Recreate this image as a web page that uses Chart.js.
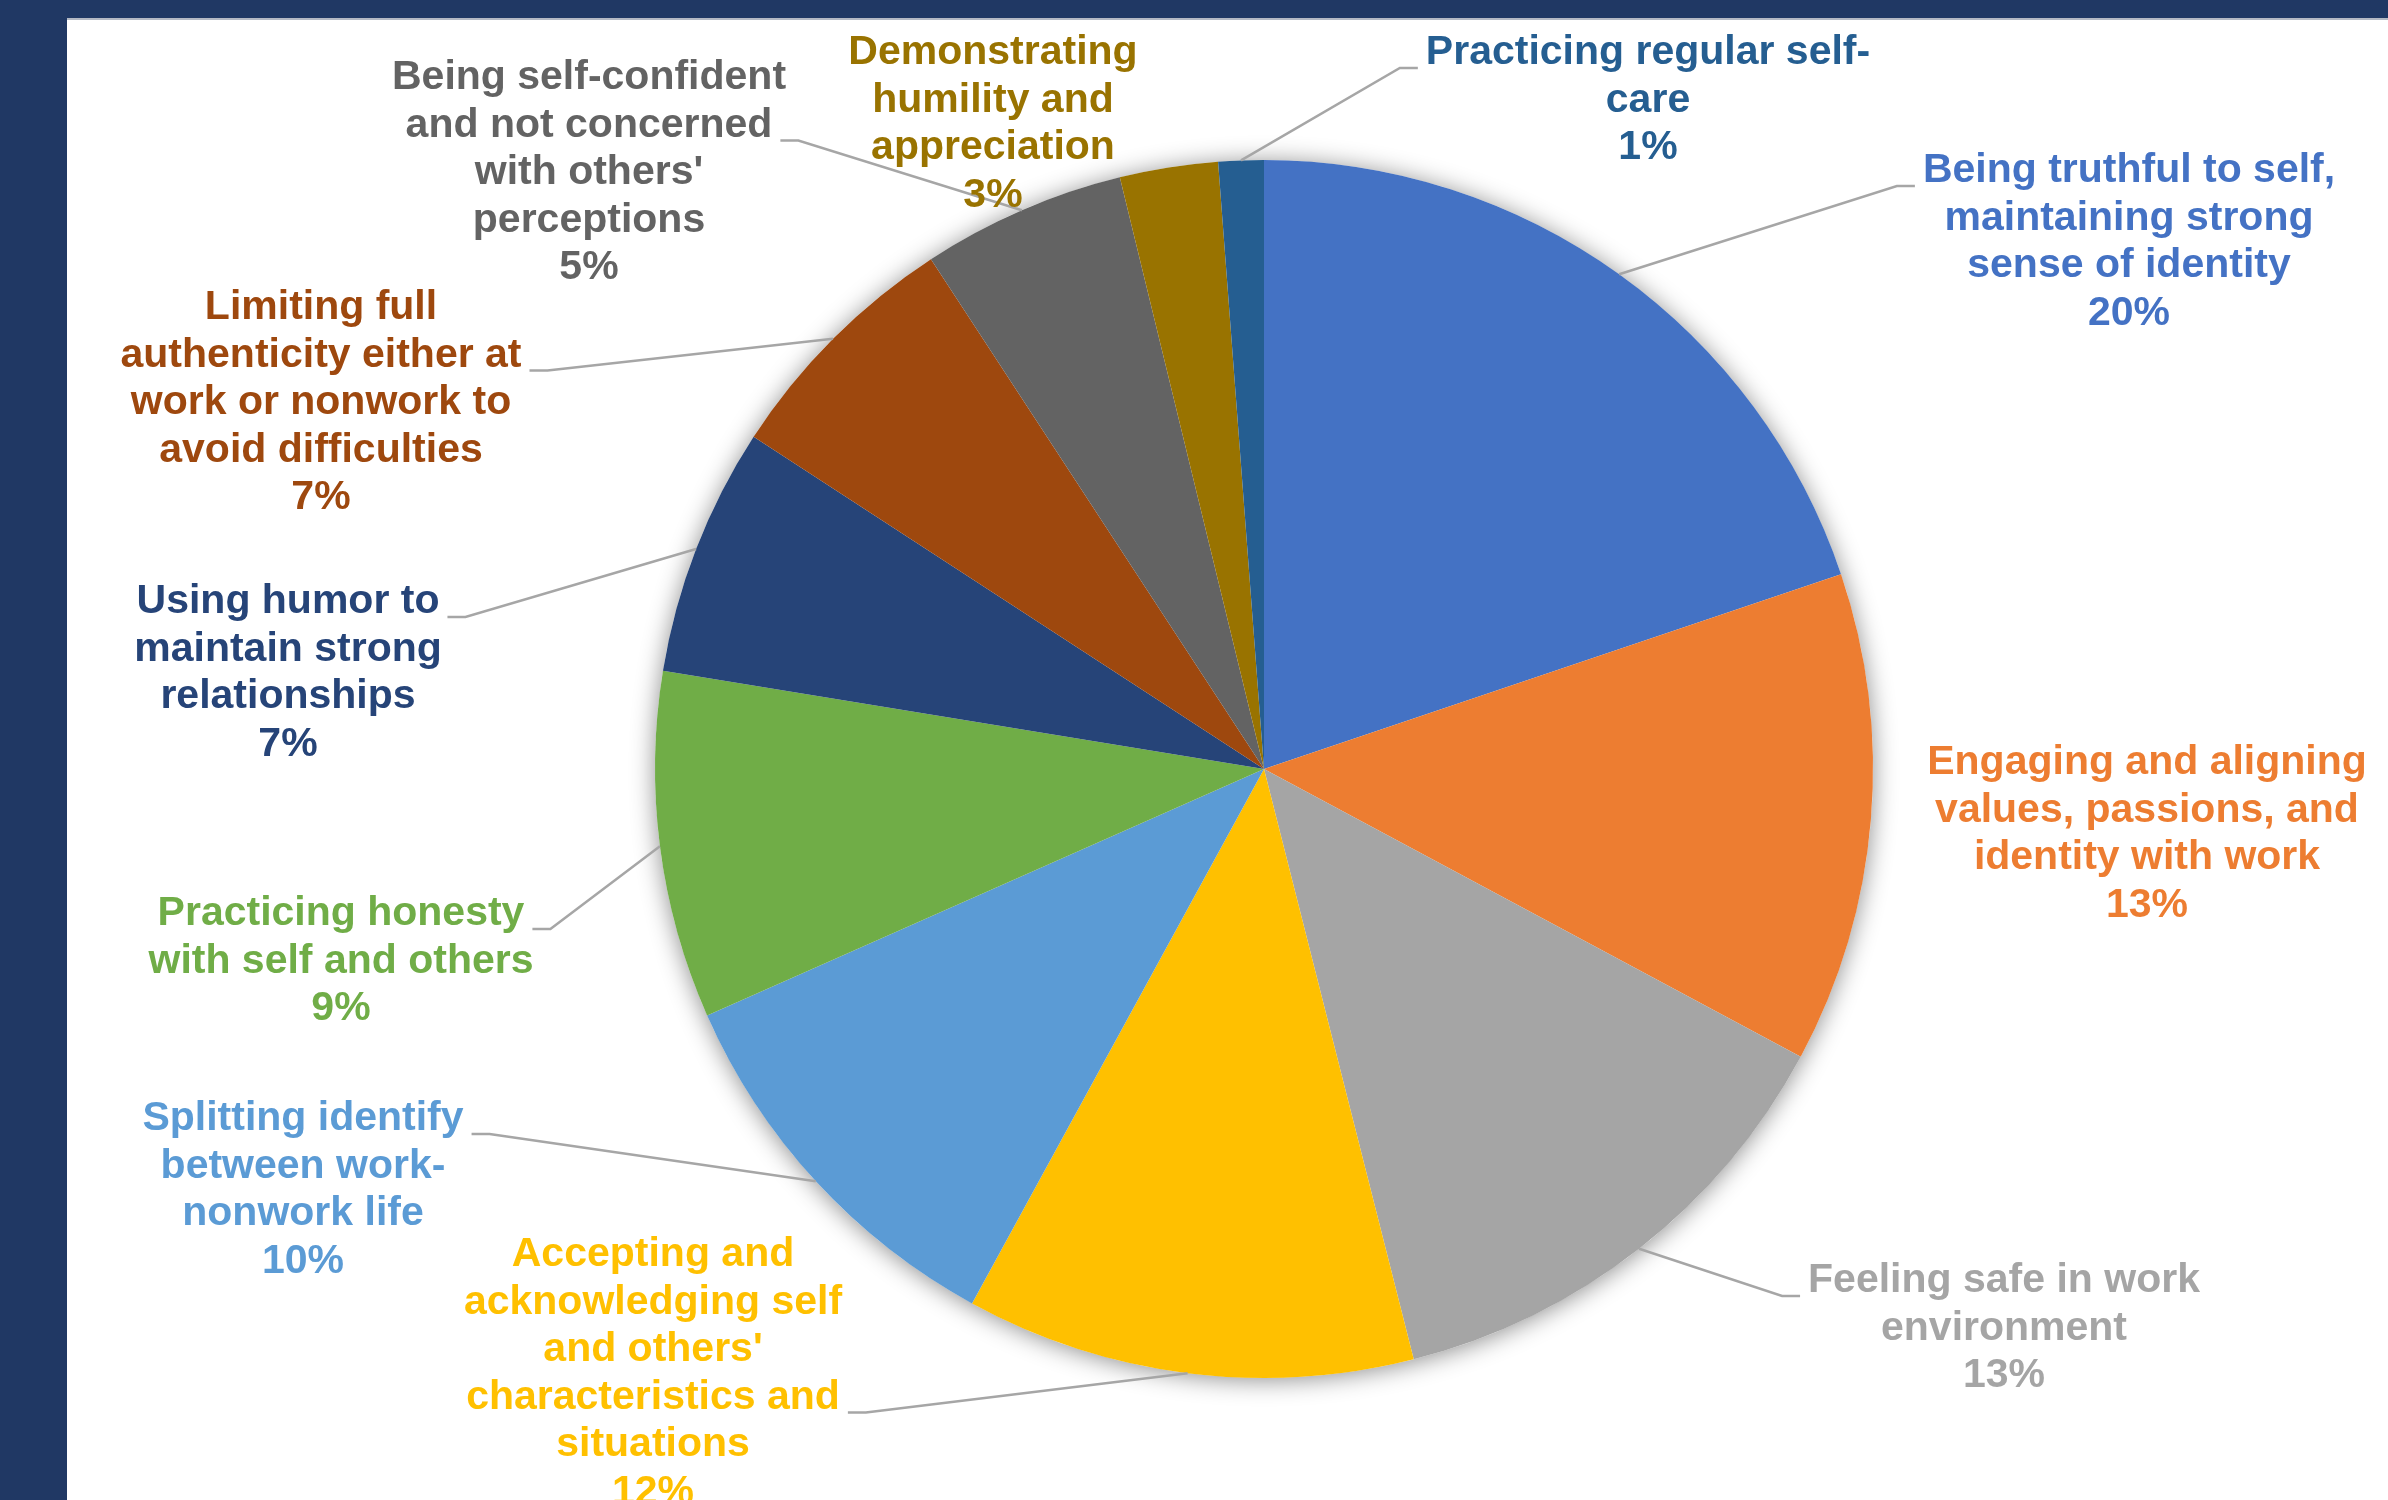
<!DOCTYPE html>
<html>
<head>
<meta charset="utf-8">
<script src="https://cdn.jsdelivr.net/npm/chart.js@4.4.0/dist/chart.umd.min.js"></script>
<style>
  html, body { margin: 0; padding: 0; }
  body { width: 2388px; height: 1500px; background: #203864; position: relative; overflow: hidden; }
  #panel { position: absolute; left: 67px; top: 18px; right: 0; bottom: 0; background: #fff; border-top: 2px solid #b4b9c4; }
  #pieChart { position: absolute; left: 0; top: 0; }
</style>
</head>
<body>
<div id="panel"></div>
<canvas id="pieChart" width="2388" height="1500"></canvas>
<script>
// wrapped category names, as shown next to each slice
const labelLines = [
  ['Being truthful to self,', 'maintaining strong', 'sense of identity'],
  ['Engaging and aligning', 'values, passions, and', 'identity with work'],
  ['Feeling safe in work', 'environment'],
  ['Accepting and', 'acknowledging self', "and others'", 'characteristics and', 'situations'],
  ['Splitting identify', 'between work-', 'nonwork life'],
  ['Practicing honesty', 'with self and others'],
  ['Using humor to', 'maintain strong', 'relationships'],
  ['Limiting full', 'authenticity either at', 'work or nonwork to', 'avoid difficulties'],
  ['Being self-confident', 'and not concerned', "with others'", 'perceptions'],
  ['Demonstrating', 'humility and', 'appreciation'],
  ['Practicing regular self-', 'care']
];
const categories = labelLines.map(l => l.reduce((s, t) => s === '' ? t : (s.endsWith('-') ? s + t : s + ' ' + t), ''));

// share of responses (%)
const values = [19.8, 13.0, 13.2, 11.9, 10.4, 9.2, 6.6, 6.6, 5.4, 2.6, 1.2];

const colors = ['#4472C4', '#ED7D31', '#A5A5A5', '#FFC000', '#5B9BD5', '#70AD47',
  '#264478', '#9E480E', '#636363', '#997300', '#255E91'];

// label placement: centre x, baseline of first line, line used by the leader, side of the pie
const labelPos = [
  { cx: 2129, y: 182, attach: 0, side: 'R' },
  { cx: 2147, y: 774, attach: 0, side: null },
  { cx: 2004, y: 1292, attach: 0, side: 'R' },
  { cx: 653, y: 1266, attach: 3, side: 'L' },
  { cx: 303, y: 1130, attach: 0, side: 'L' },
  { cx: 341, y: 925, attach: 0, side: 'L' },
  { cx: 288, y: 613, attach: 0, side: 'L' },
  { cx: 321, y: 319, attach: 1, side: 'L' },
  { cx: 589, y: 89, attach: 1, side: 'L' },
  { cx: 993, y: 64, attach: 0, side: null },
  { cx: 1648, y: 64, attach: 0, side: 'R' }
];
const LINE_H = 47.5;
const LABEL_FONT = 'bold 41px "Liberation Sans", Arial, sans-serif';

const pieShadow = {
  id: 'pieShadow',
  beforeDatasetsDraw(chart) {
    const arc = chart.getDatasetMeta(0).data[0];
    const ctx = chart.ctx;
    ctx.save();
    ctx.shadowColor = 'rgba(0,0,0,0.45)';
    ctx.shadowBlur = 24;
    ctx.shadowOffsetY = 2;
    ctx.fillStyle = '#fff';
    ctx.beginPath();
    ctx.arc(arc.x, arc.y, arc.outerRadius, 0, Math.PI * 2);
    ctx.fill();
    ctx.restore();
  }
};

const outsideLabels = {
  id: 'outsideLabels',
  afterDatasetsDraw(chart) {
    const ctx = chart.ctx;
    const meta = chart.getDatasetMeta(0);
    const total = values.reduce((a, b) => a + b, 0);
    ctx.save();
    ctx.font = LABEL_FONT;
    ctx.textAlign = 'center';
    ctx.textBaseline = 'alphabetic';

    // leader lines first
    meta.data.forEach((arc, i) => {
      const pos = labelPos[i];
      if (!pos.side) return;
      const mid = (arc.startAngle + arc.endAngle) / 2;
      const sx = arc.x + Math.cos(mid) * arc.outerRadius;
      const sy = arc.y + Math.sin(mid) * arc.outerRadius;
      const w = ctx.measureText(labelLines[i][pos.attach]).width;
      const ay = pos.y + pos.attach * LINE_H + 4;
      const ax = pos.side === 'R' ? pos.cx - w / 2 - 8 : pos.cx + w / 2 + 8;
      const ex = pos.side === 'R' ? ax - 18 : ax + 18;
      ctx.strokeStyle = '#A6A6A6';
      ctx.lineWidth = 2.5;
      ctx.beginPath();
      ctx.moveTo(sx, sy);
      ctx.lineTo(ex, ay);
      ctx.lineTo(ax, ay);
      ctx.stroke();
    });

    // label text
    meta.data.forEach((arc, i) => {
      const pos = labelPos[i];
      const lines = labelLines[i].concat([Math.round(values[i] / total * 100) + '%']);
      ctx.fillStyle = colors[i];
      lines.forEach((t, j) => ctx.fillText(t, pos.cx, pos.y + j * LINE_H));
    });
    ctx.restore();
  }
};

new Chart(document.getElementById('pieChart'), {
  type: 'pie',
  data: {
    labels: categories,
    datasets: [{
      data: values,
      backgroundColor: colors,
      borderWidth: 0
    }]
  },
  options: {
    responsive: false,
    animation: false,
    layout: { padding: { left: 655, right: 515, top: 160, bottom: 122 } },
    plugins: {
      legend: { display: false },
      tooltip: { enabled: false }
    }
  },
  plugins: [pieShadow, outsideLabels]
});
</script>
</body>
</html>
